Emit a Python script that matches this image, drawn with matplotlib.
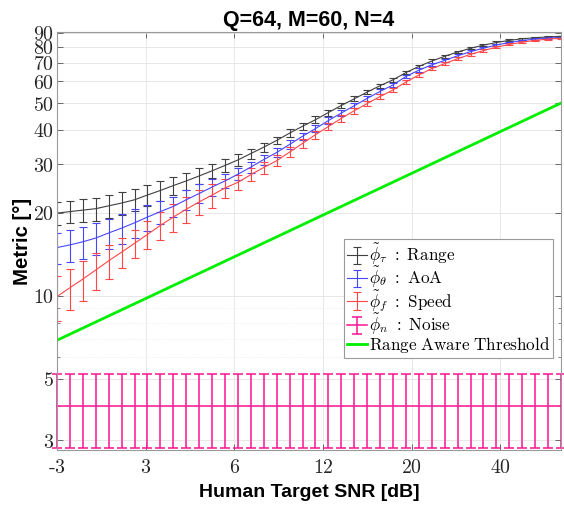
import numpy as np
import matplotlib
matplotlib.use("Agg")
import matplotlib.pyplot as plt
from matplotlib.ticker import FixedLocator, NullFormatter

plt.rcParams['mathtext.fontset'] = 'cm'
plt.rcParams['font.family'] = ['Liberation Sans', 'DejaVu Sans']

# ---------------- data ----------------
snr_index = list(range(40))
xtick_pos = [0, 6.86, 13.72, 20.58, 27.44, 34.3]
xtick_labels = ['-3', '3', '6', '12', '20', '40']

range_vals = [19.95, 20.2, 20.45, 20.7, 21.2, 21.7, 22.3, 23.2, 24.1, 25.1,
              26.1, 27.2, 28.4, 29.7, 31.1, 32.8, 34.6, 36.6, 38.9, 41.2,
              43.5, 46.2, 49.0, 51.8, 54.8, 57.8, 60.7, 64.5, 67.9, 71.0,
              73.9, 76.6, 79.0, 81.1, 82.9, 84.4, 85.5, 86.3, 86.9, 87.3]
range_err = [1.9, 1.9, 2.0, 2.0, 2.0, 2.0, 2.0, 2.0, 1.95, 1.9,
             1.85, 1.8, 1.75, 1.6, 1.45, 1.35, 1.25, 1.15, 1.2, 1.2,
             1.2, 1.15, 1.15, 1.1, 1.05, 1.0, 1.0, 1.0, 1.0, 0.95,
             0.9, 0.85, 0.8, 0.75, 0.7, 0.65, 0.6, 0.55, 0.5, 0.5]

aoa_vals = [14.96, 15.3, 15.7, 16.2, 16.9, 17.6, 18.4, 19.3, 20.2, 21.1,
            22.3, 23.5, 24.8, 26.1, 27.6, 29.3, 31.2, 33.1, 35.4, 37.9,
            40.4, 43.2, 46.0, 48.9, 52.0, 55.1, 58.2, 62.4, 65.8, 68.8,
            71.4, 74.2, 76.8, 79.1, 81.2, 82.9, 84.3, 85.3, 86.0, 86.5]
aoa_err = [1.9, 2.0, 2.05, 2.1, 2.15, 2.2, 2.2, 2.1, 1.95, 1.8,
           1.8, 1.85, 1.8, 1.6, 1.4, 1.3, 1.3, 1.25, 1.2, 1.2,
           1.2, 1.15, 1.1, 1.1, 1.05, 1.0, 1.0, 1.0, 0.95, 0.9,
           0.9, 0.85, 0.8, 0.75, 0.7, 0.65, 0.6, 0.55, 0.5, 0.5]

speed_vals = [9.94, 10.7, 11.5, 12.4, 13.4, 14.4, 15.5, 16.7, 18.0, 19.3,
              20.6, 21.9, 23.2, 24.6, 25.8, 27.5, 29.2, 30.9, 33.2, 35.7,
              38.4, 41.1, 44.0, 46.9, 49.8, 52.8, 55.8, 59.6, 63.2, 66.7,
              69.5, 72.4, 75.1, 77.5, 79.7, 81.6, 83.1, 84.4, 85.3, 85.9]
speed_err = [1.85, 1.85, 1.9, 1.9, 1.85, 1.8, 1.8, 1.95, 2.1, 2.25,
             2.3, 2.3, 2.3, 2.0, 1.6, 1.5, 1.45, 1.4, 1.35, 1.3,
             1.25, 1.2, 1.15, 1.1, 1.05, 1.0, 1.0, 1.0, 0.95, 0.9,
             0.9, 0.85, 0.8, 0.75, 0.7, 0.65, 0.6, 0.55, 0.5, 0.5]

noise_vals = [4.0] * 40
noise_err = [1.2] * 40

threshold_x = [0, 39]
threshold_vals = [6.9, 50.0]

ytick_major = [3, 5, 10, 20, 30, 40, 50, 60, 70, 80, 90]
ytick_minor = [4, 6, 7, 8, 9]

legend_labels = [r'$\tilde{\phi}_{\tau}\ :\ \mathrm{Range}$',
                 r'$\tilde{\phi}_{\theta}\ :\ \mathrm{AoA}$',
                 r'$\tilde{\phi}_{f}\ :\ \mathrm{Speed}$',
                 r'$\tilde{\phi}_{n}\ :\ \mathrm{Noise}$',
                 r'$\mathrm{Range\ Aware\ Threshold}$']

# ---------------- plot ----------------
fig = plt.figure(figsize=(5.64, 5.08), dpi=100)
ax = fig.add_axes([57/564, 1-450/508, 504/564, 418/508])

c_black = '#404040'
c_blue = '#4747ff'
c_red = '#ff4747'
c_noise = '#ff1493'
c_green = '#00ee00'

h1 = ax.errorbar(snr_index, range_vals, yerr=range_err, color=c_black, lw=0.8,
                 elinewidth=0.8, capsize=3.2, capthick=0.8)
h2 = ax.errorbar(snr_index, aoa_vals, yerr=aoa_err, color=c_blue, lw=0.8,
                 elinewidth=0.8, capsize=3.2, capthick=0.8)
h3 = ax.errorbar(snr_index, speed_vals, yerr=speed_err, color=c_red, lw=0.8,
                 elinewidth=0.8, capsize=3.2, capthick=0.8)
h4 = ax.errorbar(snr_index, noise_vals, yerr=noise_err, color=c_noise, lw=1.1,
                 elinewidth=1.1, capsize=3.5, capthick=1.1, clip_on=False)
h5, = ax.plot(threshold_x, threshold_vals, color=c_green, lw=2.0)

ax.set_yscale('log')
ax.set_ylim(2.76, 90.5)
ax.set_xlim(0, 39)

ax.yaxis.set_major_locator(FixedLocator(ytick_major))
ax.yaxis.set_minor_locator(FixedLocator(ytick_minor))
ax.yaxis.set_minor_formatter(NullFormatter())
ax.set_yticklabels([r'$%d$' % v for v in ytick_major])
ax.set_xticks(xtick_pos)
ax.set_xticklabels([r'$\text{-}3$'] + [r'$%s$' % t for t in xtick_labels[1:]])

ax.tick_params(axis='both', which='both', direction='in', top=True, right=True,
               color='#555555', labelsize=14.3, labelcolor='#262626')
ax.tick_params(axis='both', which='major', length=4, width=0.6)
ax.tick_params(axis='both', which='minor', length=2.5, width=0.5)
ax.tick_params(axis='x', pad=6)
ax.tick_params(axis='y', pad=2)

ax.grid(True, which='major', color='#e3e3e3', lw=0.6)
ax.grid(True, which='minor', axis='y', color='#e8e8e8', lw=0.6, ls=':')
ax.set_axisbelow(True)
for s in ax.spines.values():
    s.set_color('#9a9a9a')
    s.set_linewidth(0.8)

ax.set_title('Q=64, M=60, N=4', fontsize=15.5, fontweight='bold', pad=4)
ax.set_xlabel('Human Target SNR [dB]', fontsize=14, fontweight='bold', labelpad=5)
ax.set_ylabel('Metric [°]', fontsize=14.7, fontweight='bold', labelpad=1)

leg = ax.legend([h1, h2, h3, h4, h5], legend_labels,
                loc='lower right', bbox_to_anchor=(0.984, 0.220), borderaxespad=0,
                fontsize=12.3, fancybox=False, framealpha=1, edgecolor='#9a9a9a',
                handlelength=1.2, handletextpad=0.1, labelspacing=-0.1,
                borderpad=0.15)
leg.get_frame().set_linewidth(0.8)

fig.savefig('out.png', dpi=100)
